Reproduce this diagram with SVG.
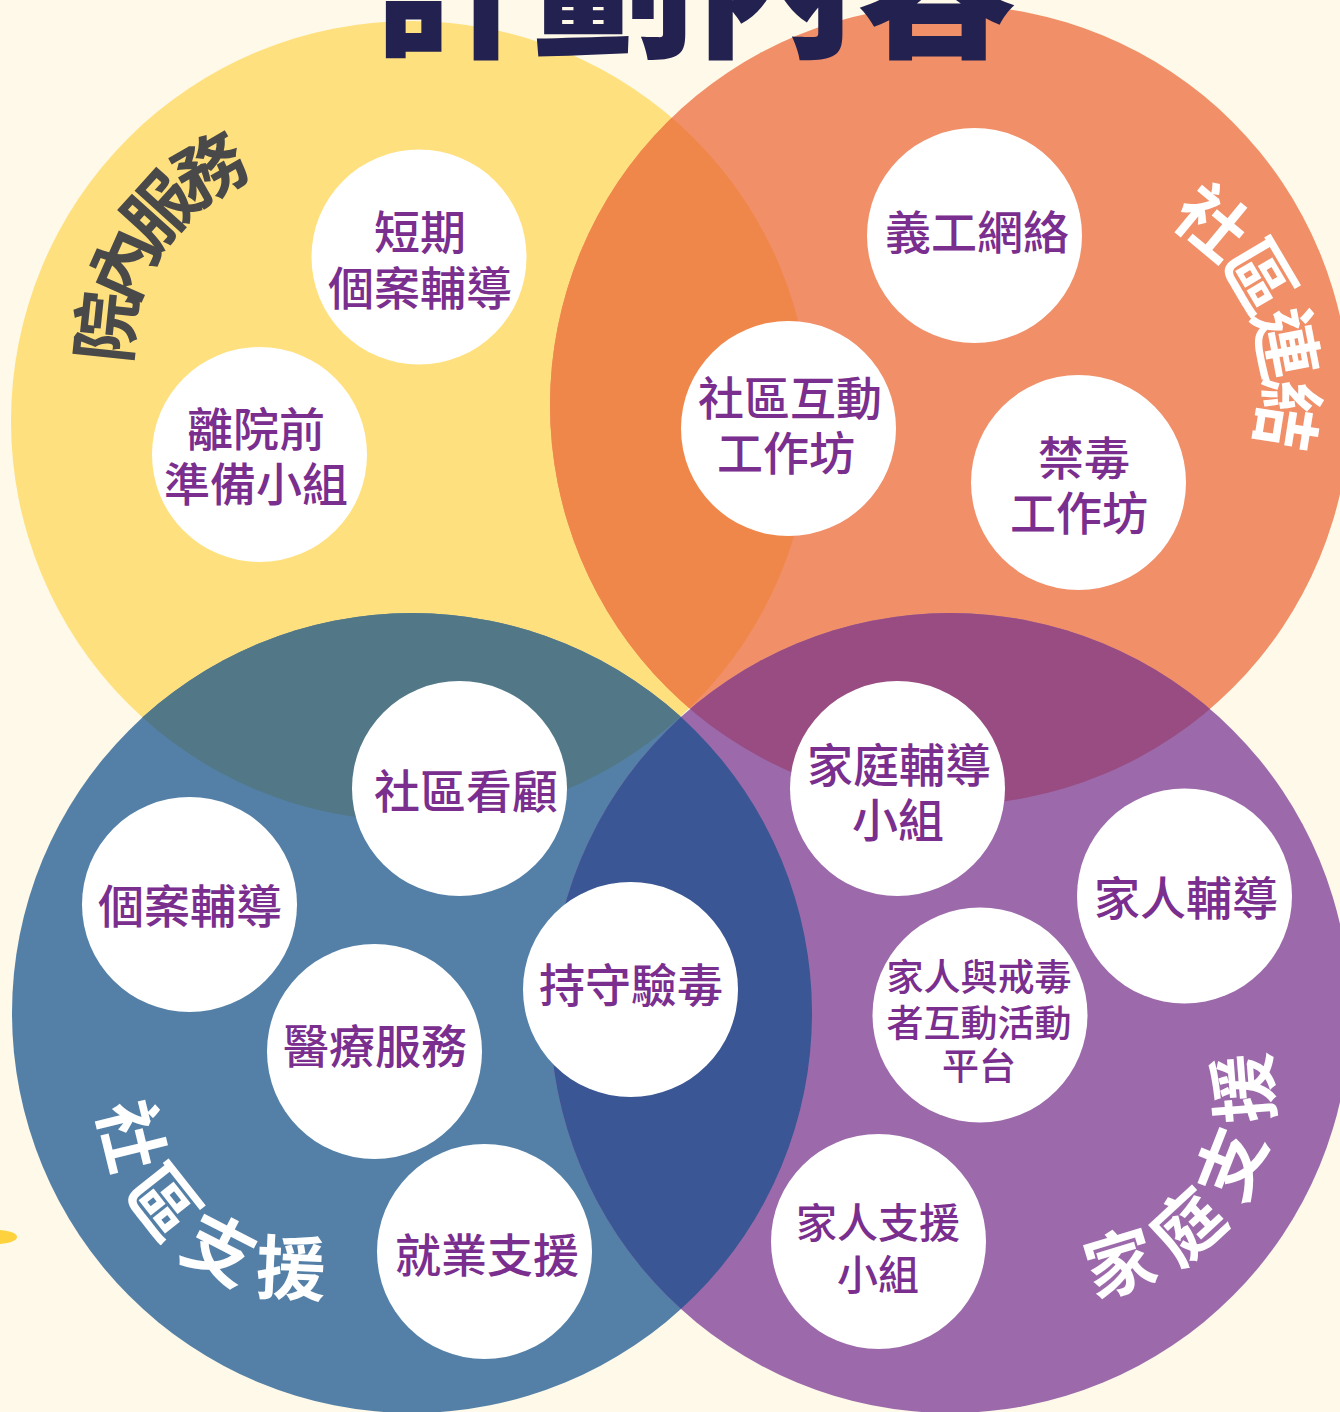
<svg xmlns="http://www.w3.org/2000/svg" width="1340" height="1412" viewBox="0 0 1340 1412">
<style>
.node circle{fill:#ffffff}
.nt{font-family:"Noto Sans CJK TC","Noto Sans CJK SC",sans-serif;font-weight:500;fill:#7a2e8e;text-anchor:middle;dominant-baseline:central}
.lbl{font-family:"Noto Sans CJK TC","Noto Sans CJK SC",sans-serif;font-weight:700;font-size:70px;text-anchor:middle;dominant-baseline:central}
.title{font-family:"Noto Sans CJK TC","Noto Sans CJK SC",sans-serif;font-weight:900;font-size:162px;fill:#23214f;text-anchor:middle}
</style>
<defs>
<clipPath id="cY"><circle cx="411" cy="421" r="400"/></clipPath>
<clipPath id="cP"><circle cx="950" cy="1013" r="400"/></clipPath>
<path id="arcY" d="M167.7,505.8 A213,213 0 0 1 396.2,153.9"/>
<path id="arcO" d="M1040.3,173.2 A215,215 0 0 1 1189.6,569.4"/>
<path id="arcB" d="M153.6,1013 A168,168 0 0 0 409.3,1223.1"/>
<path id="arcP" d="M1004.5,1250.2 A166,166 0 0 0 1189,980.3"/>
</defs>
<rect width="1340" height="1412" fill="#fef9e8"/>
<ellipse cx="-3" cy="1237" rx="20" ry="7" fill="#fdd23c"/>
<g id="circles">
<circle id="circle-yellow" cx="411" cy="421" r="400" fill="#ffe07e"/>
<circle id="circle-orange" cx="950" cy="405" r="400" fill="#f08f68"/>
<circle id="circle-blue" cx="412" cy="1013" r="400" fill="#5480a8"/>
<circle id="circle-purple" cx="950" cy="1013" r="400" fill="#9c6aab"/>
<circle cx="950" cy="405" r="400" fill="#f0874a" clip-path="url(#cY)"/>
<circle cx="412" cy="1013" r="400" fill="#527888" clip-path="url(#cY)"/>
<circle cx="412" cy="1013" r="400" fill="#3a5694" clip-path="url(#cP)"/>
<circle cx="950" cy="405" r="400" fill="#984c82" clip-path="url(#cP)"/>
</g>
<g id="labels">
<text class="lbl" fill="#4a4949" letter-spacing="-3"><textPath href="#arcY" startOffset="50%">院內服務</textPath></text>
<text class="lbl" fill="#ffffff" letter-spacing="4"><textPath href="#arcO" startOffset="50%">社區連結</textPath></text>
<text class="lbl" fill="#ffffff" letter-spacing="2"><textPath href="#arcB" startOffset="50%">社區支援</textPath></text>
<text class="lbl" fill="#ffffff" letter-spacing="5"><textPath href="#arcP" startOffset="50%">家庭支援</textPath></text>
</g>
<g id="connectors"></g>
<g id="node-short-term" class="node"><circle cx="419" cy="257" r="107.5"/>
<text class="nt" font-size="46"><tspan x="420" y="229">短期</tspan><tspan x="420" y="285">個案輔導</tspan></text></g>
<g id="node-pre-discharge" class="node"><circle cx="259.5" cy="454.5" r="107.5"/>
<text class="nt" font-size="46"><tspan x="256" y="426">離院前</tspan><tspan x="256" y="481">準備小組</tspan></text></g>
<g id="node-volunteer" class="node"><circle cx="974.5" cy="235.5" r="107.5"/>
<text class="nt" font-size="46" x="977" y="229">義工網絡</text></g>
<g id="node-community-workshop" class="node"><circle cx="788.5" cy="428.5" r="107.5"/>
<text class="nt" font-size="46"><tspan x="790" y="395">社區互動</tspan><tspan x="786" y="450">工作坊</tspan></text></g>
<g id="node-antidrug-workshop" class="node"><circle cx="1078.5" cy="482.5" r="107.5"/>
<text class="nt" font-size="46"><tspan x="1084" y="455">禁毒</tspan><tspan x="1079" y="510">工作坊</tspan></text></g>
<g id="node-community-care" class="node"><circle cx="459.5" cy="788.5" r="107.5"/>
<text class="nt" font-size="46" x="466" y="788">社區看顧</text></g>
<g id="node-case-counselling" class="node"><circle cx="189.5" cy="904.5" r="107.5"/>
<text class="nt" font-size="46" x="190" y="903">個案輔導</text></g>
<g id="node-medical" class="node"><circle cx="374.5" cy="1051.5" r="107.5"/>
<text class="nt" font-size="46" x="375" y="1043">醫療服務</text></g>
<g id="node-drug-test" class="node"><circle cx="630.5" cy="989.5" r="107.5"/>
<text class="nt" font-size="46" x="631" y="982">持守驗毒</text></g>
<g id="node-employment" class="node"><circle cx="484.5" cy="1251.5" r="107.5"/>
<text class="nt" font-size="46" x="487" y="1252">就業支援</text></g>
<g id="node-family-group" class="node"><circle cx="897.5" cy="788.5" r="107.5"/>
<text class="nt" font-size="46"><tspan x="899" y="762">家庭輔導</tspan><tspan x="898" y="817">小組</tspan></text></g>
<g id="node-family-counselling" class="node"><circle cx="1184.5" cy="896" r="107.5"/>
<text class="nt" font-size="46" x="1186" y="895">家人輔導</text></g>
<g id="node-family-platform" class="node"><circle cx="980" cy="1015" r="107.5"/>
<text class="nt" font-size="37"><tspan x="979" y="975">家人與戒毒</tspan><tspan x="979" y="1021">者互動活動</tspan><tspan x="979" y="1064">平台</tspan></text></g>
<g id="node-family-support" class="node"><circle cx="878.5" cy="1241.5" r="107.5"/>
<text class="nt" font-size="41"><tspan x="878" y="1220">家人支援</tspan><tspan x="878" y="1272">小組</tspan></text></g>
<text class="title" x="694" y="45">計劃內容</text>
</svg>
